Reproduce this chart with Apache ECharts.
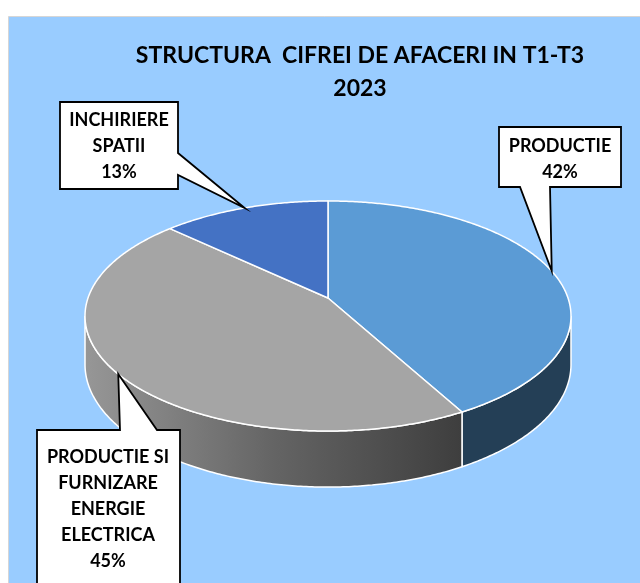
<!DOCTYPE html>
<html lang="ro">
<head>
<meta charset="UTF-8">
<title>Structura cifrei de afaceri</title>
<script src="https://cdn.jsdelivr.net/npm/echarts@6/dist/echarts.min.js"></script>
<style>
    html, body { margin: 0; padding: 0; background: #fff; }
    #chart { width: 640px; height: 583px; }
</style>
</head>
<body>
<div id="chart"></div>
<script>
    // date
    var categorii = ['PRODUCTIE', 'PRODUCTIE SI FURNIZARE ENERGIE ELECTRICA', 'INCHIRIERE SPATII'];
    var valori = [42, 45, 13];
    var etichete = ['PRODUCTIE', 'PRODUCTIE SI\nFURNIZARE\nENERGIE\nELECTRICA', 'INCHIRIERE\nSPATII'];
    var titlu = 'STRUCTURA  CIFREI DE AFACERI IN T1-T3\n2023';

    // culori
    var culoriSus = ['#5B9BD5', '#A5A5A5', '#4472C4'];
    var culoriLateral = ['#243F56', null, '#2B4A80'];

    // geometrie pie 3D cu perspectiva
    var cx = 328, cy = 298, rx = 240, ry = 112.2, persp = 0.1565, adancime = 47.3;

    // casete etichete (layout)
    var casete = [
        {x: 499, y: 127, w: 122, h: 60, latura: 'jos', b0: 520, b1: 550},
        {x: 37, y: 430, w: 143, h: 200, latura: 'sus', b0: 120, b1: 157},
        {x: 60, y: 102, w: 118, h: 87, latura: 'dreapta', b0: 153, b1: 175}
    ];
    var centreText = [[560, 159], [108, 509], [119, 146]];

    var total = valori.reduce(function (a, b) { return a + b }, 0);
    var unghiuri = [];
    var acc = 0;
    valori.forEach(function (v) {
        var a0 = acc / total * Math.PI * 2;
        acc += v;
        unghiuri.push([a0, acc / total * Math.PI * 2]);
    });

    function proj(t, jos) {
        var den = 1 + persp * Math.cos(t);
        return [cx + rx * Math.sin(t) / den, cy - ry * Math.cos(t) / den + (jos || 0) / den];
    }

    function arc(a0, a1, jos) {
        var pts = [];
        var n = Math.max(2, Math.ceil((a1 - a0) / 0.01));
        for (var i = 0; i <= n; i++) pts.push(proj(a0 + (a1 - a0) * i / n, jos));
        return pts;
    }

    var siluetaA = Math.acos(-persp), siluetaB = Math.PI * 2 - siluetaA;

    function renderItem(params, api) {
        var i = params.dataIndex;
        var a0 = unghiuri[i][0], a1 = unghiuri[i][1];
        var copii = [];

        // perete lateral
        var s = Math.max(a0, siluetaA), e = Math.min(a1, siluetaB);
        if (s < e) {
            var pts = arc(s, e, 0).concat(arc(s, e, adancime).reverse());
            var fill = culoriLateral[i];
            if (!fill) {
                fill = {
                    type: 'linear', x: cx - rx, y: 0, x2: proj(a0)[0], y2: 0, global: true,
                    colorStops: [{offset: 0, color: '#969696'}, {offset: 0.5, color: '#646464'}, {offset: 1, color: '#3e3e3e'}]
                };
            }
            copii.push({type: 'polygon', z2: 1, shape: {points: pts},
                style: {fill: fill, stroke: '#fff', lineWidth: 1.5}});
        }

        // fata de sus
        copii.push({type: 'polygon', z2: 2, shape: {points: [[cx, cy]].concat(arc(a0, a1, 0))},
            style: {fill: culoriSus[i], stroke: '#fff', lineWidth: 1.5, lineJoin: 'round'}});

        // caseta eticheta
        var c = casete[i];
        var varf = proj((a0 + a1) / 2);
        var p = [[c.x, c.y]];
        if (c.latura === 'sus') p.push([c.b0, c.y], varf, [c.b1, c.y]);
        p.push([c.x + c.w, c.y]);
        if (c.latura === 'dreapta') p.push([c.x + c.w, c.b0], varf, [c.x + c.w, c.b1]);
        p.push([c.x + c.w, c.y + c.h]);
        if (c.latura === 'jos') p.push([c.b1, c.y + c.h], varf, [c.b0, c.y + c.h]);
        p.push([c.x, c.y + c.h]);
        copii.push({type: 'polygon', z2: 10, shape: {points: p},
            style: {fill: '#fff', stroke: '#000', lineWidth: 1.8, lineJoin: 'miter'}});

        var procent = Math.round(api.value(0) / total * 100) + '%';
        copii.push({type: 'text', z2: 11, style: {
            text: etichete[i] + '\n' + procent,
            x: centreText[i][0], y: centreText[i][1],
            align: 'center', verticalAlign: 'middle',
            font: 'bold 18px Lato', lineHeight: 26, fill: '#000'
        }});

        return {type: 'group', children: copii};
    }

    var chart = echarts.init(document.getElementById('chart'));
    var option = {
        backgroundColor: '#fff',
        animation: false,
        graphic: [{
            type: 'rect', z: -10,
            shape: {x: 8.5, y: 16.5, width: 640, height: 600},
            style: {fill: '#99CCFF', stroke: '#d6d6d6', lineWidth: 1}
        }],
        title: {
            text: titlu,
            left: 360, top: 39, padding: 0,
            textAlign: 'center',
            textStyle: {fontFamily: 'Lato', fontWeight: 'bold', fontSize: 23, lineHeight: 33, color: '#000'}
        },
        series: [{
            type: 'custom',
            coordinateSystem: 'none',
            name: 'Cifra de afaceri',
            data: valori.map(function (v, i) { return {name: categorii[i], value: v} }),
            renderItem: renderItem
        }]
    };
    chart.setOption(option);
</script>
</body>
</html>
